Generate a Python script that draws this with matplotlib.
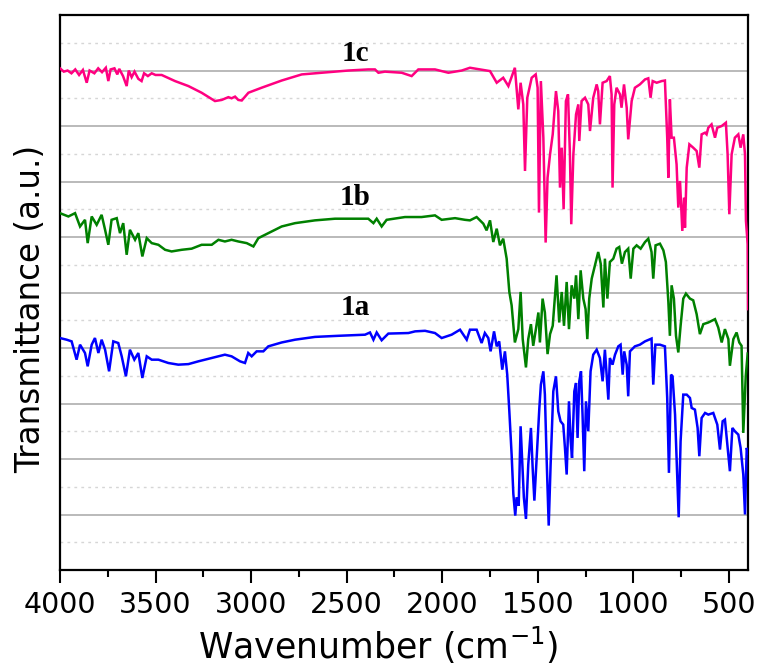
import matplotlib
matplotlib.use("Agg")
import matplotlib.pyplot as plt
import numpy as np

# ---------------- data (wavenumber cm-1, offset transmittance a.u.) ----------------
wn_1c = [4000, 3980, 3960, 3940, 3920, 3900, 3880, 3860, 3845, 3820, 3800, 3780, 3760, 3747,
         3735, 3715, 3700, 3690, 3670, 3651, 3640, 3625, 3610, 3590, 3573, 3560, 3540, 3520,
         3500, 3468, 3398, 3328, 3259, 3189, 3154, 3119, 3102, 3084, 3067, 3049, 3014, 2945,
         2840, 2735, 2631, 2491, 2387, 2352, 2334, 2300, 2212, 2160, 2125, 2038, 1968, 1898,
         1855, 1803, 1750, 1715, 1681, 1654, 1620, 1602, 1590, 1576, 1567, 1555, 1532, 1511,
         1501, 1494, 1484, 1471, 1459, 1449, 1436, 1422, 1405, 1393, 1384, 1375, 1365, 1353,
         1342, 1332, 1325, 1314, 1300, 1288, 1283, 1271, 1253, 1236, 1227, 1210, 1192, 1184,
         1175, 1161, 1140, 1123, 1114, 1109, 1100, 1088, 1070, 1062, 1049, 1035, 1027, 1009,
         992, 966, 939, 922, 910, 899, 878, 852, 835, 823, 817, 809, 800, 788, 774, 765, 756,
         744, 735, 730, 721, 707, 687, 669, 655, 643, 625, 617, 608, 591, 573, 561, 538, 516,
         507, 498, 486, 469, 451, 439, 425, 416, 411, 402, 400]
t_1c = [9.04, 8.98, 9.00, 8.95, 9.02, 8.92, 9.01, 8.78, 9.00, 8.95, 9.04, 8.97, 9.05, 8.81,
        9.02, 9.04, 8.93, 9.03, 8.90, 8.72, 9.00, 8.88, 8.98, 8.85, 8.81, 8.95, 8.90, 8.95,
        8.92, 8.92, 8.81, 8.72, 8.60, 8.45, 8.47, 8.52, 8.50, 8.53, 8.47, 8.46, 8.60, 8.69,
        8.82, 8.93, 8.96, 9.00, 9.02, 9.02, 8.96, 8.98, 8.96, 8.90, 9.02, 9.02, 8.96, 9.00,
        9.05, 9.02, 8.99, 8.78, 8.87, 8.72, 9.05, 8.30, 8.78, 8.39, 7.19, 8.51, 8.87, 8.93,
        8.69, 6.44, 8.81, 7.79, 5.90, 7.07, 7.49, 7.85, 8.63, 8.27, 6.89, 7.61, 6.50, 8.45,
        8.57, 7.49, 6.23, 7.49, 8.21, 8.39, 7.73, 8.45, 8.51, 8.39, 7.91, 8.51, 8.75, 8.63,
        8.03, 8.78, 8.81, 8.90, 8.57, 6.89, 8.39, 8.69, 8.57, 8.33, 8.75, 8.33, 7.76, 8.45,
        8.69, 8.75, 8.84, 8.86, 8.51, 8.81, 8.78, 8.81, 8.82, 7.79, 7.07, 8.48, 7.79, 7.79,
        7.31, 6.53, 7.01, 6.11, 6.71, 6.17, 7.25, 7.67, 7.61, 7.55, 7.25, 7.85, 7.88, 7.85,
        7.97, 8.03, 7.79, 7.97, 8.00, 8.06, 7.49, 6.41, 7.49, 7.79, 7.85, 7.61, 7.85, 7.49,
        6.29, 5.87, 4.70]

wn_1b = [4000, 3956, 3921, 3895, 3869, 3855, 3834, 3808, 3782, 3764, 3747, 3730, 3703, 3686,
         3669, 3651, 3634, 3607, 3590, 3569, 3546, 3520, 3485, 3450, 3416, 3363, 3311, 3259,
         3206, 3171, 3137, 3102, 3067, 3023, 2988, 2962, 2910, 2840, 2770, 2666, 2561, 2456,
         2387, 2360, 2343, 2317, 2291, 2195, 2108, 2038, 2003, 1933, 1881,
         1855, 1820, 1785, 1768, 1750, 1733, 1715, 1698, 1681, 1663, 1649, 1637, 1620, 1602,
         1590, 1579, 1562, 1550, 1536, 1524, 1510, 1497, 1489, 1475, 1463, 1449, 1436, 1422,
         1410, 1402, 1388, 1375, 1363, 1349, 1337, 1323, 1309, 1300, 1288, 1276, 1262, 1250,
         1241, 1231, 1218, 1201, 1184, 1171, 1157, 1149, 1136, 1123, 1105, 1088, 1074, 1060,
         1044, 1027, 1014, 1000, 983, 962, 939, 922, 905, 896, 884, 861, 843, 830, 817, 809,
         800, 788, 777, 765, 753, 739, 725, 704, 687, 669, 652, 634, 608, 573, 556, 538, 521,
         503, 495, 477, 460, 446, 434, 425, 412, 402]
t_1b = [6.43, 6.37, 6.43, 6.19, 6.31, 5.89, 6.37, 6.22, 6.40, 6.13, 5.86, 6.31, 6.34, 6.07,
        6.25, 5.68, 6.13, 5.95, 6.07, 5.65, 5.98, 5.89, 5.86, 5.77, 5.74, 5.77, 5.79, 5.86,
        5.86, 5.95, 5.92, 5.95, 5.92, 5.89, 5.83, 5.98, 6.07, 6.19, 6.25, 6.30, 6.33, 6.33,
        6.33, 6.25, 6.33, 6.19, 6.31, 6.36, 6.36, 6.39, 6.31, 6.34, 6.31,
        6.30, 6.36, 6.24, 6.12, 6.30, 5.91, 6.15, 5.85, 5.97, 5.61, 5.01, 4.77, 4.10, 4.34,
        5.01, 4.16, 3.65, 4.16, 4.43, 4.04, 4.34, 4.64, 4.10, 4.89, 4.64, 3.89, 4.25, 4.40,
        4.95, 5.31, 4.46, 5.01, 4.40, 5.19, 4.34, 5.13, 4.89, 5.31, 4.52, 5.40, 4.89, 4.70,
        4.16, 4.89, 5.25, 5.49, 5.73, 5.52, 4.73, 5.61, 4.89, 5.55, 5.61, 5.79, 5.82, 5.52,
        5.73, 5.79, 5.25, 5.79, 5.85, 5.79, 5.91, 5.97, 5.73, 5.25, 5.85, 5.88, 5.76, 5.55,
        4.83, 4.22, 5.13, 4.89, 4.22, 3.92, 4.40, 4.89, 4.98, 4.89, 4.86, 4.61, 4.25, 4.43,
        4.46, 4.52, 4.37, 4.10, 4.34, 4.16, 3.68, 4.16, 4.28, 4.10, 4.04, 2.47, 3.50, 3.90]

wn_1a = [4000, 3965, 3939, 3913, 3895, 3869, 3855, 3834, 3817, 3799, 3782, 3764, 3743, 3721,
         3695, 3677, 3655, 3634, 3611, 3590, 3569, 3546, 3520, 3485, 3433, 3381, 3328, 3276,
         3206, 3137, 3102, 3058, 3032, 3015, 2997, 2971, 2936, 2910, 2840, 2770, 2666, 2544,
         2404, 2378, 2360, 2343, 2317, 2282, 2177, 2142, 2090, 2038, 2003, 1951, 1907, 1872,
         1855, 1820, 1794, 1777, 1759, 1747, 1729, 1715, 1702, 1686, 1672, 1660, 1649, 1637,
         1628, 1618, 1611, 1600, 1590, 1581, 1573, 1562, 1550, 1536, 1527, 1518, 1506, 1492,
         1484, 1471, 1463, 1454, 1443, 1433, 1419, 1405, 1393, 1381, 1367, 1358, 1349, 1337,
         1328, 1321, 1309, 1300, 1292, 1283, 1274, 1266, 1257, 1248, 1236, 1224, 1210, 1192,
         1175, 1161, 1149, 1140, 1131, 1123, 1109, 1096, 1079, 1067, 1056, 1048, 1035, 1027,
         1018, 992, 966, 939, 905, 896, 885, 861, 835, 823, 814, 803, 795, 782, 774, 763, 753,
         739, 721, 704, 695, 678, 664, 655, 643, 625, 608, 582, 561, 547, 533, 521, 507, 495,
         482, 469, 451, 439, 425, 416, 407, 400]
t_1a = [4.18, 4.15, 4.12, 3.79, 4.06, 3.91, 3.67, 4.06, 4.18, 3.91, 4.15, 3.97, 3.58, 4.12,
        4.09, 3.85, 3.49, 3.97, 3.79, 3.91, 3.46, 3.85, 3.79, 3.79, 3.73, 3.70, 3.71, 3.76,
        3.82, 3.88, 3.85, 3.76, 3.73, 3.91, 3.85, 3.94, 3.94, 4.03, 4.10, 4.15, 4.20, 4.22,
        4.24, 4.28, 4.15, 4.28, 4.14, 4.26, 4.27, 4.30, 4.31, 4.27, 4.18, 4.24, 4.33, 4.15,
        4.33, 4.33, 4.09, 4.27, 4.18, 3.94, 4.30, 4.03, 4.12, 3.61, 3.94, 3.52, 2.86, 2.08,
        1.37, 0.98, 1.31, 1.16, 2.59, 1.90, 1.31, 0.92, 1.90, 2.56, 1.84, 1.25, 2.02, 2.92,
        3.34, 3.58, 3.16, 2.02, 0.80, 1.90, 3.22, 3.49, 2.86, 2.68, 2.62, 2.20, 1.72, 3.04,
        2.32, 2.02, 3.22, 3.37, 2.38, 3.40, 3.58, 2.80, 1.78, 3.04, 2.50, 3.58, 3.88, 3.97,
        3.82, 3.40, 3.97, 3.52, 3.07, 3.82, 3.70, 3.88, 4.03, 4.06, 3.52, 3.94, 3.70, 3.13,
        3.94, 4.03, 4.06, 4.12, 4.17, 3.34, 4.06, 4.06, 4.03, 3.10, 1.75, 3.52, 3.49, 2.80,
        2.02, 0.95, 2.32, 3.16, 3.16, 3.10, 2.92, 2.89, 2.56, 2.05, 2.74, 2.83, 2.80, 2.83,
        2.62, 2.17, 2.68, 2.71, 2.20, 1.78, 2.56, 2.50, 2.44, 2.20, 1.72, 1.00, 2.20, 2.10]

sample_names = ["1a", "1b", "1c"]
label_wn = [2457, 2457, 2457]
label_y = [4.73, 6.71, 9.31]
colors = ["#0000ff", "#008000", "#ff0080"]

# ---------------- figure ----------------
fig = plt.figure(figsize=(7.61, 6.68), dpi=100)
ax = fig.add_axes([0.0788, 0.1467, 0.9042, 0.8308])

for wn, t, c in zip([wn_1a, wn_1b, wn_1c], [t_1a, t_1b, t_1c], colors):
    ax.plot(wn, t, color=c, lw=1.8, zorder=3, solid_joinstyle="miter")

for name, x, y in zip(sample_names, label_wn, label_y):
    ax.text(x, y, name, family="Liberation Serif", fontweight="bold", fontsize=21,
            ha="center", va="center", zorder=4)

ax.set_xlim(4000, 400)
ax.set_ylim(0, 10)
ax.set_xticks(np.arange(4000, 499, -500))
ax.set_xticks(np.arange(3750, 500, -500), minor=True)
ax.set_yticks(np.arange(1, 10))
ax.set_yticks(np.arange(0.5, 10, 1), minor=True)
ax.set_axisbelow(True)
ax.yaxis.grid(True, which="major", color="#b4b4b4", lw=1.3, ls="-")
ax.yaxis.grid(True, which="minor", color="#d6d6d6", lw=1.0, ls=(0, (2, 3)))
ax.tick_params(axis="y", which="both", length=0, labelleft=False)
ax.tick_params(axis="x", which="major", direction="out", length=9, width=1.5,
               labelsize=20.5, pad=6)
ax.tick_params(axis="x", which="minor", direction="out", length=5, width=1.5)
for s in ax.spines.values():
    s.set_linewidth(1.6)
    s.set_color("black")

ax.set_xlabel("Wavenumber (cm$^{-1}$)", fontsize=25)
ax.xaxis.set_label_coords(0.462, -0.098)
ax.set_ylabel("Transmittance (a.u.)", fontsize=23.5)
ax.yaxis.set_label_coords(-0.018, 0.47)

fig.savefig("out.png", dpi=100)
